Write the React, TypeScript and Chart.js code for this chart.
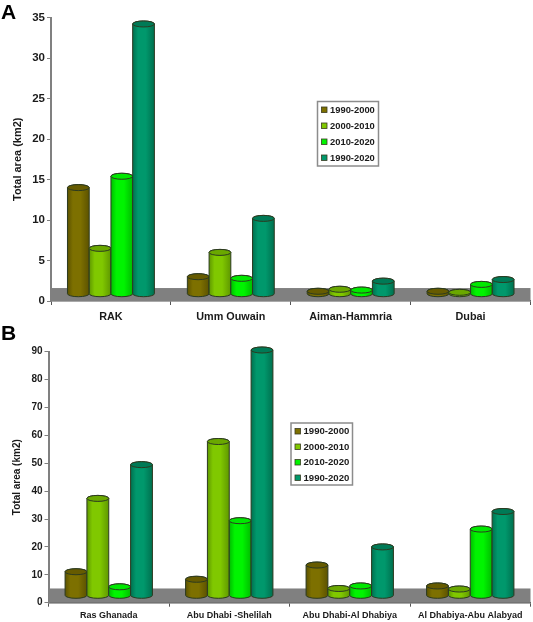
import React, { useEffect, useRef } from "react";
import { Chart, registerables } from "chart.js";

Chart.register(...registerables);

const seriesLabels = ["1990-2000", "2000-2010", "2010-2020", "1990-2020"];
const seriesColors = ["#7d7000", "#80c800", "#00f400", "#00986c"];
const seriesDark = ["#5c5200", "#5f9800", "#00bc00", "#00704f"];
const seriesCap = ["#665b00", "#6aa800", "#00e800", "#007a56"];

const categoriesA = ["RAK", "Umm Quwain", "Ajman-Hammria", "Dubai"];
const a1990_2000 = [14, 3, 1.2, 1.2];
const a2000_2010 = [6.5, 6, 1.45, 1.07];
const a2010_2020 = [15.4, 2.8, 1.35, 2.05];
const a1990_2020 = [34.2, 10.2, 2.45, 2.65];
const ticksMaxA = 35;
const stepA = 5;
const floorA = 1.6;
const baseA = 0.9;

const categoriesB = ["Ras Ghanada", "Abu Dhabi -Shelilah", "Abu Dhabi-Al Dhabiya", "Al Dhabiya-Abu Alabyad"];
const b1990_2000 = [11.1, 8.4, 13.5, 6];
const b2000_2010 = [37.4, 57.8, 5.1, 4.9];
const b2010_2020 = [5.7, 29.4, 6, 26.4];
const b1990_2020 = [49.5, 90.6, 20, 32.7];
const ticksMaxB = 90;
const stepB = 10;
const floorB = 5.1;
const baseB = 2.65;

const FONT = "'Liberation Sans', Arial, sans-serif";

function cylinderPlugin(floor: number) {
  return {
    id: "cylinders",
    beforeDatasetsDraw(chart: any) {
      const { ctx, chartArea, scales } = chart;
      const top = scales.y.getPixelForValue(floor);
      const bot = scales.y.getPixelForValue(0);
      ctx.save();
      ctx.fillStyle = "#808080";
      ctx.fillRect(chartArea.left, top, chartArea.right - chartArea.left, bot - top);
      ctx.restore();
    },
    afterDatasetsDraw(chart: any) {
      const { ctx } = chart;
      ctx.save();
      chart.data.datasets.forEach((_: any, i: number) => {
        chart.getDatasetMeta(i).data.forEach((bar: any) => {
          const w = bar.width;
          const l = bar.x - w / 2;
          const r = bar.x + w / 2;
          const ry = 3;
          const grad = ctx.createLinearGradient(l, 0, r, 0);
          grad.addColorStop(0, seriesDark[i]);
          grad.addColorStop(0.25, seriesColors[i]);
          grad.addColorStop(0.6, seriesColors[i]);
          grad.addColorStop(1, seriesDark[i]);
          ctx.beginPath();
          ctx.moveTo(l, bar.y);
          ctx.lineTo(l, bar.base);
          ctx.ellipse(bar.x, bar.base, w / 2, ry, 0, Math.PI, 0, true);
          ctx.lineTo(r, bar.y);
          ctx.ellipse(bar.x, bar.y, w / 2, ry, 0, 0, Math.PI, true);
          ctx.closePath();
          ctx.fillStyle = grad;
          ctx.fill();
          ctx.strokeStyle = "#2c3a20";
          ctx.lineWidth = 1;
          ctx.stroke();
          ctx.beginPath();
          ctx.ellipse(bar.x, bar.y, w / 2, ry, 0, 0, Math.PI * 2);
          ctx.fillStyle = seriesCap[i];
          ctx.fill();
          ctx.stroke();
        });
      });
      ctx.restore();
    },
  };
}

function legendPlugin(box: { x: number; y: number; w: number; h: number; rowH: number; size: number }) {
  return {
    id: "boxLegend",
    afterDraw(chart: any) {
      const { ctx } = chart;
      ctx.save();
      ctx.fillStyle = "#ffffff";
      ctx.strokeStyle = "#8c8c8c";
      ctx.lineWidth = 1.5;
      ctx.fillRect(box.x, box.y, box.w, box.h);
      ctx.strokeRect(box.x, box.y, box.w, box.h);
      ctx.font = `bold ${box.size}px ${FONT}`;
      ctx.textBaseline = "middle";
      chart.data.datasets.forEach((ds: any, i: number) => {
        const cy = box.y + 8 + i * box.rowH;
        ctx.fillStyle = seriesColors[i];
        ctx.strokeStyle = "#3a3a20";
        ctx.lineWidth = 0.8;
        ctx.fillRect(box.x + 4, cy - 2.5, 5.5, 5.5);
        ctx.strokeRect(box.x + 4, cy - 2.5, 5.5, 5.5);
        ctx.fillStyle = "#1a1a1a";
        ctx.fillText(ds.label, box.x + 12.5, cy + 0.5);
      });
      ctx.restore();
    },
  };
}

type PanelProps = {
  cats: string[];
  series: number[][];
  max: number;
  step: number;
  floor: number;
  base: number;
  height: number;
  top: number;
  padTop: number;
  axisBottom: number;
  axisLeft: number;
  tickSize: number;
  catSize: number;
  catPad: number;
  titleSize: number;
  pct: number;
  legend: { x: number; y: number; w: number; h: number; rowH: number; size: number };
};

function Panel(p: PanelProps) {
  const ref = useRef<HTMLCanvasElement>(null);
  useEffect(() => {
    const chart = new Chart(ref.current as HTMLCanvasElement, {
      type: "bar",
      data: {
        labels: p.cats,
        datasets: p.series.map((values, i) => ({
          label: seriesLabels[i],
          data: values,
          base: p.base,
          backgroundColor: "rgba(0,0,0,0)",
          borderWidth: 0,
          categoryPercentage: p.pct,
          barPercentage: 1,
        })),
      },
      options: {
        animation: false,
        responsive: false,
        layout: { padding: { top: p.padTop, right: 2.5, left: 0, bottom: 0 } },
        plugins: { legend: { display: false }, tooltip: { enabled: false } },
        scales: {
          x: {
            afterFit: (s: any) => { s.height = p.height - p.axisBottom; },
            grid: { drawOnChartArea: false, drawTicks: true, tickLength: 4, color: "#555555" },
            border: { color: "#555555", width: 1.5 },
            ticks: { color: "#1a1a1a", font: { family: FONT, weight: "bold", size: p.catSize }, padding: p.catPad, maxRotation: 0, autoSkip: false },
          },
          y: {
            min: 0,
            max: p.max,
            afterFit: (s: any) => { s.width = p.axisLeft; },
            grid: { drawOnChartArea: false, drawTicks: true, tickLength: 4, color: "#808080" },
            border: { color: "#808080", width: 2 },
            ticks: { stepSize: p.step, color: "#1a1a1a", font: { family: FONT, weight: "bold", size: p.tickSize }, padding: 2 },
            title: { display: true, text: "Total area (km2)", color: "#1a1a1a", font: { family: FONT, weight: "bold", size: p.titleSize }, padding: { top: 11, bottom: 0 } },
          },
        },
      } as any,
      plugins: [cylinderPlugin(p.floor), legendPlugin(p.legend)] as any,
    });
    return () => chart.destroy();
  }, []);
  return <canvas ref={ref} width={533} height={p.height} style={{ position: "absolute", left: 0, top: p.top, width: 533, height: p.height }} />;
}

const letterStyle: React.CSSProperties = { position: "absolute", left: 1, fontFamily: FONT, fontWeight: "bold", fontSize: 21, lineHeight: "21px", color: "#000" };

export default function App() {
  return (
    <div style={{ position: "absolute", left: 0, top: 0, width: 533, height: 622, background: "#fff", overflow: "hidden" }}>
      <Panel cats={categoriesA} series={[a1990_2000, a2000_2010, a2010_2020, a1990_2020]} max={ticksMaxA} step={stepA} floor={floorA} base={baseA}
        height={320} top={0} padTop={17.5} axisBottom={301} axisLeft={51} tickSize={11.5} catSize={10.8} catPad={6} titleSize={11} pct={0.725}
        legend={{ x: 317.5, y: 101.5, w: 61, h: 64.5, rowH: 16, size: 9.4 }} />
      <Panel cats={categoriesB} series={[b1990_2000, b2000_2010, b2010_2020, b1990_2020]} max={ticksMaxB} step={stepB} floor={floorB} base={baseB}
        height={302} top={320} padTop={31.7} axisBottom={282.7} axisLeft={48.5} tickSize={10} catSize={9} catPad={3} titleSize={10} pct={0.725}
        legend={{ x: 291, y: 103, w: 61.5, h: 62, rowH: 15.5, size: 9.6 }} />
      <div style={{ ...letterStyle, top: 1 }}>A</div>
      <div style={{ ...letterStyle, top: 322 }}>B</div>
    </div>
  );
}
